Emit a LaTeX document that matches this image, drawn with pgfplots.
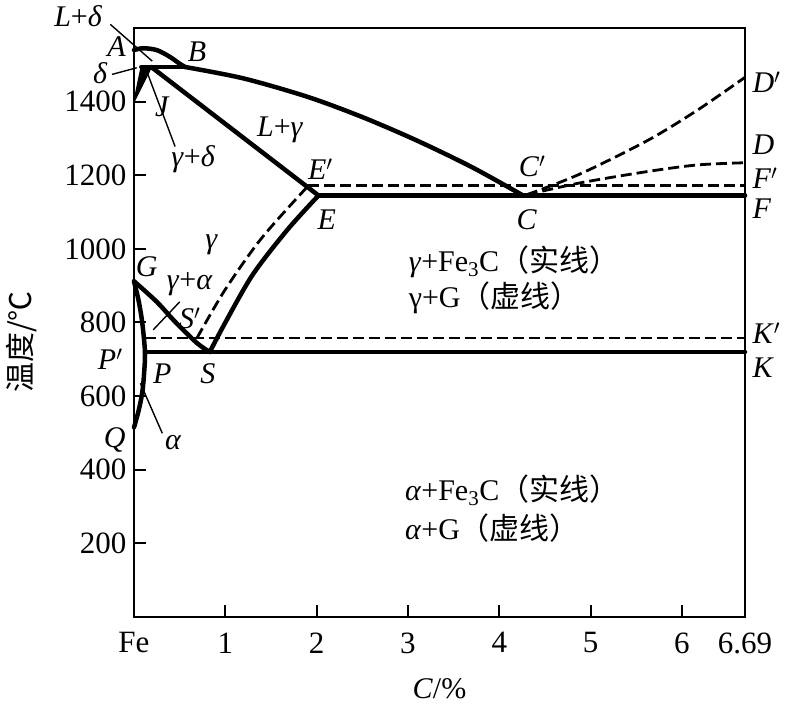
\documentclass[border=0pt]{standalone}
\usepackage{fontspec}
\setmainfont{Liberation Serif}
\newfontfamily\cjk{Noto Sans CJK SC}
\usepackage{pgfplots}
\pgfplotsset{compat=1.18}
\pgfplotsset{
  thk/.style={line width=4.5pt, black, line join=round, line cap=round},
  dsh/.style={line width=2.8pt, black, dash pattern=on 11pt off 5pt},
  thn/.style={line width=1.4pt, black},
}
\newcommand{\ii}[1]{\textit{#1}}
\begin{document}
\begin{tikzpicture}[font=\fontsize{30}{36}\selectfont]
\begin{axis}[
  scale only axis, width=611pt, height=589pt,
  xmin=0, xmax=6.69, ymin=0, ymax=1600,
  clip=false,
  axis line style={line width=2.2pt},
  tick style={line width=2pt, black},
  major tick length=12pt,
  tick align=inside,
  xtick={0,1,2,3,4,5,6,6.69},
  xticklabels={Fe,1,2,3,4,5,6,6.69},
  ytick={200,400,600,800,1000,1200,1400},
  xtick pos=bottom, ytick pos=left,
  /pgf/number format/assume math mode=true,
  /pgf/number format/1000 sep={},
  tick label style={font=\fontsize{31}{36}\selectfont},
  xticklabel style={yshift=-12pt},
  yticklabel style={xshift=-4pt},
  xlabel={\textit{C}/\%},
  ylabel={{\cjk 温度/℃}},
  xlabel style={at={(axis description cs:0.5,-0.1214)}, anchor=center},
  ylabel style={at={(axis description cs:-0.1833,0.467)}, anchor=center},
]
\coordinate (bl) at (rel axis cs:0,0);
\coordinate (tr) at (rel axis cs:1,1);
% liquidus AB
\addplot[thk, smooth] coordinates {(0,1540) (0.1,1545) (0.25,1540) (0.39,1522) (0.5,1503) (0.56,1494)};
% peritectic HJB
\addplot[thk] coordinates {(0.08,1494) (0.56,1494)};
% wedge N-H-J
\addplot[fill=black, draw=black, line width=1.5pt, line join=round] coordinates {(0,1400) (0.08,1494) (0.19,1494)} -- cycle;
% JE
\addplot[thk] coordinates {(0.19,1494) (2.02,1145)};
% BC liquidus
\addplot[thk, smooth] coordinates {(0.56,1494) (1.2,1463) (1.9,1413) (2.5,1358) (3.1,1294) (3.7,1222) (4.26,1145)};
% ECF
\addplot[thk] coordinates {(2.02,1145) (6.69,1145)};
% E'C'F'
\addplot[dsh] coordinates {(1.91,1172) (6.69,1172)};
% ES solid
\addplot[thk, smooth] coordinates {(0.83,720) (1.0,800) (1.3,930) (1.68,1052) (2.02,1145)};
% E'S' dashed
\addplot[dsh, smooth] coordinates {(0.69,758) (1.0,890) (1.4,1030) (1.91,1172)};
% GS
\addplot[thk, smooth] coordinates {(0,912) (0.25,856) (0.45,802) (0.69,744) (0.83,720)};
% GPQ
\addplot[thk, smooth] coordinates {(0,912) (0.05,860) (0.09,800) (0.12,720) (0.11,660) (0.09,609) (0.05,560) (0,515)};
% PSK
\addplot[thk] coordinates {(0.12,720) (6.69,720)};
% P'S'K'
\addplot[dsh] coordinates {(0.115,758) (6.69,758)};
% CD dashed
\addplot[dsh, smooth] coordinates {(4.3,1147) (4.88,1179) (5.62,1210) (6.17,1228) (6.69,1234)};
% C'D' dashed
\addplot[dsh, smooth] coordinates {(4.3,1147) (4.88,1203) (5.62,1294) (6.17,1377) (6.69,1466)};
% leader lines
\addplot[thn] coordinates {(-0.26,1610) (0.2,1510)};
\addplot[thn] coordinates {(-0.24,1474) (0.03,1492)};
\addplot[thn] coordinates {(0.45,1278) (0.14,1482)};
\addplot[thn] coordinates {(0.21,780) (0.50,856)};
\addplot[thn] coordinates {(0.07,635) (0.31,499)};
% labels
\node at (-0.61,1632) {\ii{L}+\ii{δ}};
\node at (-0.19,1550) {\ii{A}};
\node at (-0.37,1477) {\ii{δ}};
\node at (0.69,1536) {\ii{B}};
\node at (0.31,1386) {\ii{J}};
\node at (0.65,1243) {\ii{γ}+\ii{δ}};
\node at (1.6,1324) {\ii{L}+\ii{γ}};
\node at (2.04,1215) {\ii{E}$'$};
\node at (2.11,1079) {\ii{E}};
\node at (4.36,1223) {\ii{C}$'$};
\node at (4.30,1079) {\ii{C}};
\begin{scope}[every node/.style={anchor=west, inner sep=0pt}]
\node at (6.77,1452) {\ii{D}$'$};
\node at (6.77,1283) {\ii{D}};
\node at (6.77,1192) {\ii{F}$'$};
\node at (6.77,1110) {\ii{F}};
\node at (6.77,771) {\ii{K}$'$};
\node at (6.77,676) {\ii{K}};
\end{scope}
\node at (0.14,951) {\ii{G}};
\node at (0.61,903) {\ii{γ}+\ii{α}};
\node at (0.61,812) {\ii{S}$'$};
\node at (0.85,1011) {\ii{γ}};
\node[inner sep=1pt] at (-0.26,700) {\ii{P}$'$};
\node at (0.31,662) {\ii{P}};
\node at (0.81,662) {\ii{S}};
\node at (-0.21,480) {\ii{Q}};
\node at (0.43,475) {\ii{α}};
\node[anchor=west] at (2.97,965) {\ii{γ}+Fe\textsubscript{3}C{\cjk（实线）}};
\node[anchor=west] at (2.97,867) {γ+G{\cjk（虚线）}};
\node[anchor=west] at (2.93,344) {\ii{α}+Fe\textsubscript{3}C{\cjk（实线）}};
\node[anchor=west] at (2.93,241) {\ii{α}+G{\cjk（虚线）}};
\end{axis}
\pgfresetboundingbox
\path ([shift={(-134pt,-89.5pt)}]bl) rectangle ([shift={(46pt,28pt)}]tr);
\end{tikzpicture}
\end{document}
